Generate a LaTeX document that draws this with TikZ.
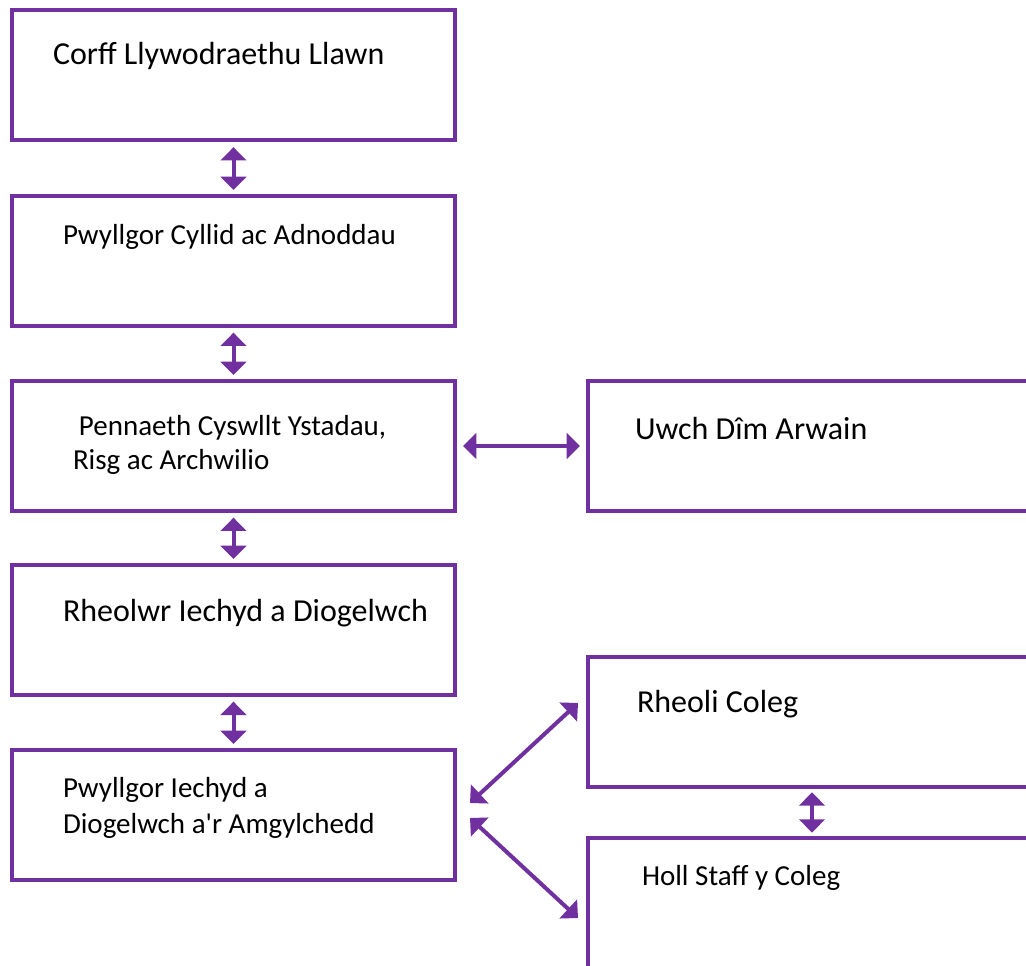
\documentclass[tikz,border=0pt]{standalone}
\usepackage{fontspec}
\setmainfont{Carlito}
\usetikzlibrary{arrows.meta,calc}
\definecolor{orgpurple}{HTML}{7030A0}

\begin{document}
\begin{tikzpicture}[
    x=0.75pt, y=-0.75pt,
    every node/.style={inner sep=0pt, outer sep=0pt},
    orgbox/.style={draw=orgpurple, line width=3pt, rectangle,
      minimum width=332.25pt, minimum height=97.5pt},
    widebox/.style={orgbox, minimum width=345pt},
    bigtext/.style={anchor=base west, font=\fontsize{24}{29}\selectfont},
    smalltext/.style={anchor=base west, font=\fontsize{21.75}{27}\selectfont},
    linkarrow/.style={draw=orgpurple, line width=3pt,
      {Triangle[width=19pt,length=10pt]}-{Triangle[width=19pt,length=10pt]}},
    ]
    \useasboundingbox (0,0) rectangle (1026,966);
    \clip (0,0) rectangle (1026,966);

    % left column
    \node[orgbox] (llawn) at (233.5,75.5) {};
    \node[orgbox] (cyllid) at (233.5,261) {};
    \node[orgbox] (pennaeth) at (233.5,446) {};
    \node[orgbox] (rheolwr) at (233.5,630) {};
    \node[orgbox] (pwyllgor) at (233.5,815) {};
    % right column
    \node[widebox] (uwch) at (818,446) {};
    \node[widebox] (rheoli) at (818,722) {};
    \node[widebox] (holl) at (818,903) {};

    % labels
    \node[bigtext] (t-llawn) at (53,65) {Corff Llywodraethu Llawn};
    \node[smalltext] (t-cyllid) at (63,245) {Pwyllgor Cyllid ac Adnoddau};
    \node[smalltext] (t-pennaeth) at (79,436) {Pennaeth Cyswllt Ystadau,};
    \node[smalltext] (t-risg) at (73,470) {Risg ac Archwilio};
    \node[bigtext] (t-rheolwr) at (63,621) {Rheolwr Iechyd a Diogelwch};
    \node[smalltext] (t-pwyllgor) at (63,797) {Pwyllgor Iechyd a};
    \node[smalltext] (t-amgylchedd) at (63,833) {Diogelwch a\textquotesingle r Amgylchedd};
    \node[bigtext] (t-uwch) at (635,440) {Uwch Dîm Arwain};
    \node[bigtext] (t-rheoli) at (637,712) {Rheoli Coleg};
    \node[smalltext] (t-holl) at (642,885) {Holl Staff y Coleg};

    % connectors
    \draw[linkarrow, shorten <=5pt, shorten >=4.5pt] (llawn) -- (cyllid);
    \draw[linkarrow, shorten <=5pt, shorten >=4.5pt] (cyllid) -- (pennaeth);
    \draw[linkarrow, shorten <=5pt, shorten >=4.5pt] (pennaeth) -- (rheolwr);
    \draw[linkarrow, shorten <=5pt, shorten >=4.5pt] (rheolwr) -- (pwyllgor);
    \draw[linkarrow, shorten <=6pt, shorten >=6pt] (pennaeth) -- (uwch);
    \draw[linkarrow] ($(pwyllgor.east)+(15,-12)$) -- ($(rheoli.west)+(-10,-19)$);
    \draw[linkarrow] ($(pwyllgor.east)+(15,3)$) -- ($(holl.west)+(-10,15)$);
    \draw[linkarrow, shorten <=4pt, shorten >=4pt]
      ($(rheoli.south west)+(224,0)$) -- ($(holl.north west)+(224,0)$);
\end{tikzpicture}
\end{document}
